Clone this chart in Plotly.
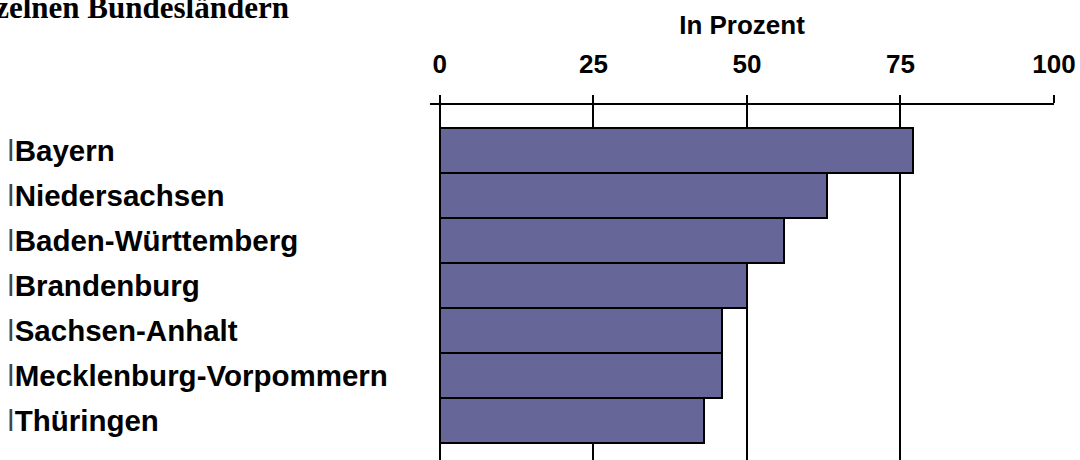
import plotly.graph_objects as go

categories = ["Bayern", "Niedersachsen", "Baden-Württemberg", "Brandenburg",
              "Sachsen-Anhalt", "Mecklenburg-Vorpommern", "Thüringen"]
values = [77, 63, 56, 50, 46, 46, 43]
tick_values = [0, 25, 50, 75, 100]
tick_labels = ["0", "25", "50", "75", "100"]
axis_title = "In Prozent"
title_text = "in einzelnen Bundesländern"

W, H = 1080, 460
L, R, T, B = 430, 25.5, 105, 0
plot_h = H - T - B

fig = go.Figure()
fig.add_trace(go.Bar(
    x=values, y=categories, orientation="h",
    marker=dict(color="#666699", line=dict(color="black", width=2)),
    showlegend=False, hoverinfo="skip",
))

fig.update_layout(
    width=W, height=H,
    margin=dict(l=L, r=R, t=T, b=B, pad=0),
    paper_bgcolor="white", plot_bgcolor="white",
    bargap=0,
    font=dict(family="Liberation Sans, Arial", color="black"),
)

fig.update_xaxes(
    side="top", range=[-1.6, 100],
    tickmode="array", tickvals=tick_values, ticktext=tick_labels,
    tickfont=dict(size=26, family="Liberation Sans, Arial", weight="bold"),
    ticks="outside", ticklen=8, tickwidth=2, tickcolor="black",
    ticklabelstandoff=12,
    showline=True, linecolor="black", linewidth=2,
    showgrid=True, gridcolor="black", gridwidth=2,
    zeroline=False, automargin=False,
    title=dict(text=axis_title, font=dict(size=26, weight="bold"), standoff=6),
)
fig.update_yaxes(
    type="category", categoryorder="array", categoryarray=categories,
    range=[6.884, -1.004], showticklabels=False, ticks="",
    showline=False, showgrid=False, zeroline=False, automargin=False,
)

def px_to_paper_x(px):
    return (px - L) / (W - L - R)

def py_to_paper_y(py):
    return (H - B - py) / plot_h

for cat in categories:
    fig.add_annotation(
        x=px_to_paper_x(5), xref="paper", xanchor="left",
        y=cat, yref="y", yanchor="middle",
        text="<span style='font-weight:normal;color:#444'>\u01c0</span>" + cat,
        showarrow=False,
        font=dict(size=29.5, family="Liberation Sans, Arial", weight="bold", color="black"),
    )

fig.add_annotation(
    x=px_to_paper_x(291), xref="paper", xanchor="right",
    y=py_to_paper_y(7.5), yref="paper", yanchor="middle",
    text=title_text, showarrow=False,
    font=dict(size=31, family="Liberation Serif, Times New Roman", weight="bold", color="black"),
)

fig.write_html("out.html")
